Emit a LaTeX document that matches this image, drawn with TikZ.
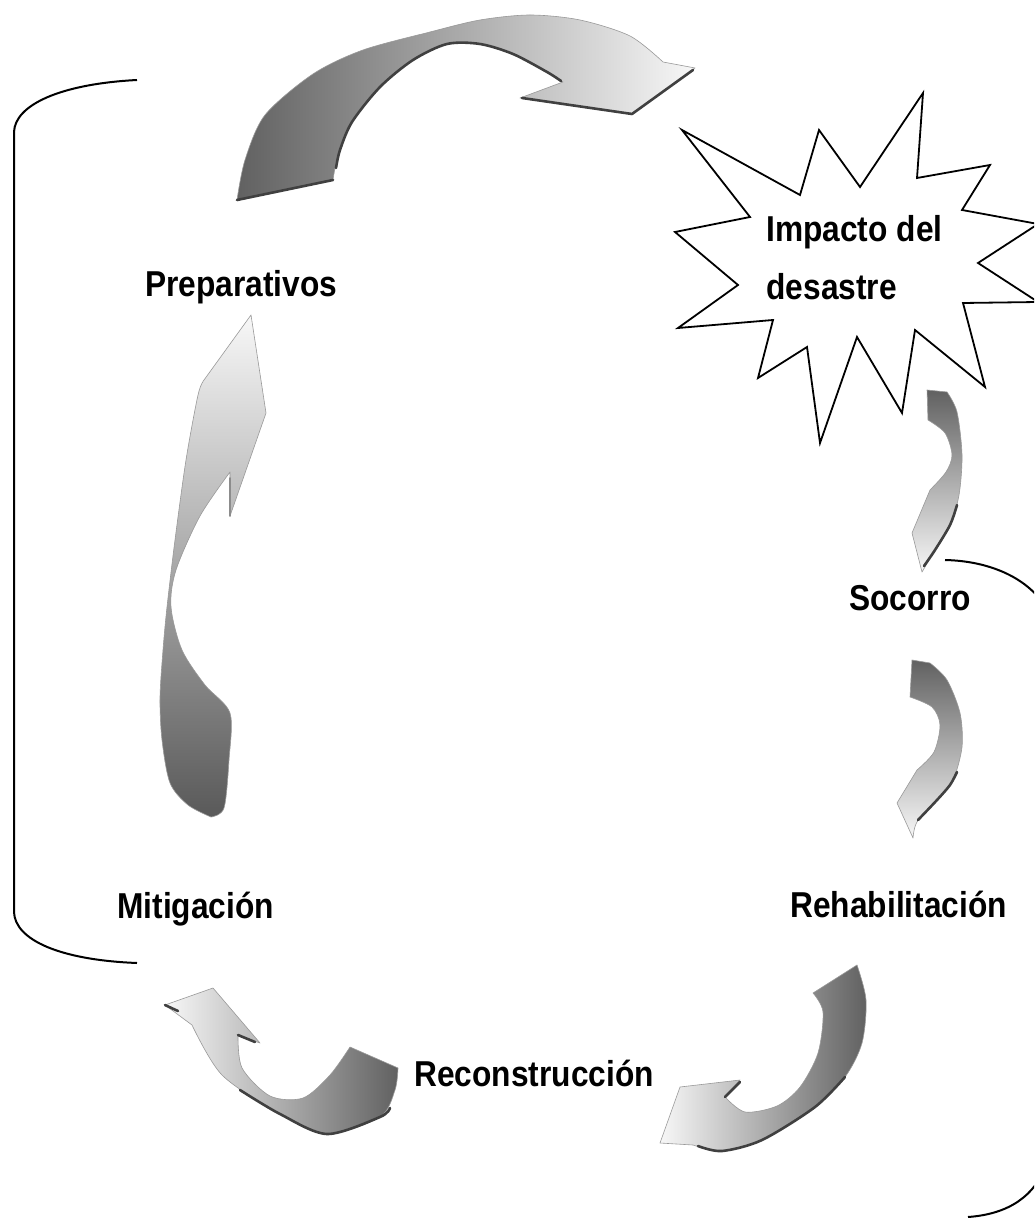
\documentclass[tikz,border=0pt]{standalone}
\usepackage{fontspec}
\setmainfont{Liberation Sans}[FakeStretch=0.88]
\begin{document}
\begin{tikzpicture}[x=0.5pt,y=-0.5pt]
\tikzset{
  lbl/.style={font=\bfseries\fontsize{18}{22}\selectfont, inner sep=0pt, anchor=base west},
  bracket/.style={line width=1pt, draw=black},
  blockarrow/.style={draw=black!40, line width=0.3pt, line join=round},
  rim/.style={line width=1.3pt, draw=black!75, line cap=round, line join=round},
  burst/.style={draw=black, line width=0.9pt, fill=white, line join=miter}
}
\useasboundingbox (0,0) rectangle (1034,1218);
\clip (0,0) rectangle (1034,1218);
\fill[white] (0,0) rectangle (1034,1218);

% brackets
\draw[bracket] (137,80) .. controls (60,84) and (15,105) .. (14,132) -- (14,912) .. controls (15,940) and (60,960) .. (137,963);
\draw[bracket] (945,560) .. controls (990,561) and (1025,578) .. (1042,602);
\draw[bracket] (1046,1165) .. controls (1035,1195) and (1010,1214) .. (968,1217);

% starburst
\draw[burst] (682,130) -- (800,195) -- (819,130) -- (860,187) -- (923,93) -- (917,178)
  -- (990,165) -- (962,210) -- (1038,224) -- (978,263) -- (1038,302) -- (963,303)
  -- (985,387) -- (915,330) -- (902,413) -- (857,337) -- (820,443) -- (807,347)
  -- (758,378) -- (773,320) -- (678,328) -- (738,285) -- (675,232) -- (750,217) -- cycle;

% arrow 1: Preparativos -> Impacto
\shade[blockarrow, left color=black!62, middle color=black!35, right color=black!3]
  (237,200) -- (333,180) -- plot[smooth] coordinates {(333,180) (338,155) (352,122) (380,87) (413,60) (447,44) (480,44) (513,54) (547,72) (563,82)}
  -- (520,98) -- (632,114) -- (695,68) -- (663,62)
  -- plot[smooth] coordinates {(663,62) (630,36) (580,20) (530,15) (480,20) (430,32) (363,50) (313,74) (265,115) (245,160) (237,200)} -- cycle;
\draw[rim] (237,200) -- (333,180);
\draw[rim] plot[smooth] coordinates {(336,168) (340,150) (352,122) (380,87) (413,60) (447,44) (480,44) (513,54) (547,72) (561,81)};
\draw[rim] (522,98) -- (632,114) -- (693,70);

% arrow 2: Impacto -> Socorro
\shade[blockarrow, top color=black!62, middle color=black!40, bottom color=black!3]
  (927,390) -- (947,392) -- plot[smooth] coordinates {(947,392) (957,412) (962,455) (959,495) (950,525) (935,550) (922,572)}
  -- (912,533) -- (930,490) -- plot[smooth] coordinates {(930,490) (946,472) (952,455) (945,433) (928,420)} -- cycle;
\draw[rim] plot[smooth] coordinates {(957,505) (950,525) (935,550) (924,566)};

% arrow 3: Socorro -> Rehabilitacion
\shade[blockarrow, top color=black!62, middle color=black!40, bottom color=black!3]
  (912,660) -- (930,663) -- plot[smooth] coordinates {(930,663) (947,680) (960,713) (962,747) (953,780) (937,800) (917,822) (913,838)}
  -- (897,803) -- (917,770) -- plot[smooth] coordinates {(917,770) (934,752) (940,725) (932,707) (910,697)} -- cycle;
\draw[rim] plot[smooth] coordinates {(957,772) (950,785) (937,800) (918,820)};

% arrow 4: Rehabilitacion -> Reconstruccion
\shade[blockarrow, left color=black!3, middle color=black!30, right color=black!62]
  (813,993) -- (857,965) -- plot[smooth] coordinates {(857,965) (866,1000) (862,1043) (845,1077) (815,1107) (762,1140) (722,1151) (693,1145)}
  -- (660,1143) -- (680,1087) -- (740,1080) -- (725,1097)
  -- plot[smooth] coordinates {(725,1097) (745,1112) (777,1106) (800,1087) (818,1053) (823,1012) (813,993)} -- cycle;
\draw[rim] plot[smooth] coordinates {(845,1077) (815,1107) (762,1140) (722,1151) (698,1146)};
\draw[rim] (725,1097) -- (740,1082);

% arrow 5: Reconstruccion -> Mitigacion
\shade[blockarrow, left color=black!3, middle color=black!25, right color=black!62]
  (350,1047) -- (398,1068) -- plot[smooth] coordinates {(398,1068) (395,1090) (380,1117) (327,1134) (280,1114) (222,1075) (192,1025)}
  -- (165,1005) -- (213,988) -- (260,1043) -- (238,1035)
  -- plot[smooth] coordinates {(238,1035) (242,1068) (270,1096) (303,1098) (330,1075) (350,1047)} -- cycle;
\draw[rim] plot[smooth] coordinates {(390,1108) (380,1117) (327,1134) (280,1114) (240,1090)};
\draw[rim] (165,1005) -- (178,1011);
\draw[rim] (238,1035) -- (255,1042);

% arrow 6: Mitigacion -> Preparativos
\shade[blockarrow, top color=black!3, middle color=black!20, bottom color=black!65]
  (211,817) -- plot[smooth] coordinates {(211,817) (188,805) (170,783) (162,740) (160,698) (163,650) (167,607) (175,540) (186,460) (198,395) (204,380)}
  -- (251,315) -- (266,413) -- (230,516) -- (230,472)
  -- plot[smooth] coordinates {(230,472) (200,516) (176,570) (171,607) (182,650) (205,685) (230,713) (229,760) (224,808) (211,817)} -- cycle;
\draw[rim, draw=black!45, line width=0.9pt] (230,516) -- (230,478);

% labels
\node[lbl] (prep) at (145,297) {Preparativos};
\node[lbl] (imp1) at (766,242) {Impacto del};
\node[lbl] (imp2) at (766,300) {desastre};
\node[lbl] (soc) at (849,610) {Socorro};
\node[lbl] (reh) at (790,917) {Rehabilitación};
\node[lbl] (mit) at (117,918) {Mitigación};
\node[lbl] (rec) at (414,1086) {Reconstrucción};
\end{tikzpicture}
\end{document}
